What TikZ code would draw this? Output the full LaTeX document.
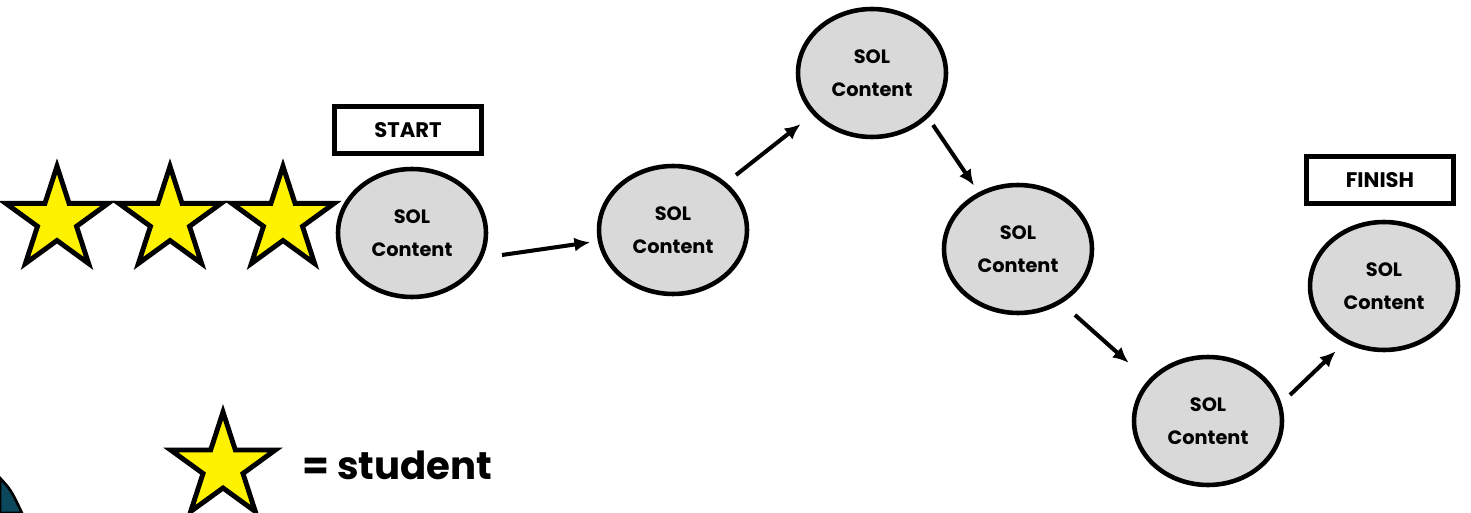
\documentclass[tikz,border=0pt]{standalone}
\usepackage{fontspec}
\setmainfont{Poppins}
\usetikzlibrary{shapes.geometric,arrows.meta}
\definecolor{solgray}{RGB}{217,217,217}
\definecolor{slideteal}{RGB}{12,72,92}
\tikzset{
  sol/.style={ellipse, draw, line width=2.6pt, fill=solgray, minimum width=2.96cm, minimum height=2.56cm, inner sep=0pt, align=center, font=\fontsize{11}{19}\selectfont\bfseries},
  label box/.style={draw, line width=2.8pt, minimum width=2.95cm, minimum height=0.95cm, inner sep=0pt, font=\fontsize{12}{14}\selectfont\bfseries},
  student/.style={star, star points=5, star point ratio=2.618, draw, line width=2.8pt, fill=yellow, inner sep=0pt, minimum size=2.15cm},
  flow/.style={-{Latex[length=9pt,width=8pt]}, line width=2.3pt, shorten >=1pt}
}
\begin{document}
\begin{tikzpicture}[x=0.02cm, y=-0.02cm]
\useasboundingbox (0,0) rectangle (1471,513);
% slide corner
\filldraw[fill=slideteal, line width=1.5pt] (0,478) .. controls (11,490) .. (22,513) -- (0,513) -- cycle;
% path of content
\node[sol] (c1) at (412,233) {SOL\\Content};
\node[sol] (c2) at (673,230) {SOL\\Content};
\node[sol] (c3) at (872,73) {SOL\\Content};
\node[sol] (c4) at (1018,249) {SOL\\Content};
\node[sol] (c5) at (1208,421) {SOL\\Content};
\node[sol] (c6) at (1384,286) {SOL\\Content};
\node[label box] (start) at (408,130) {START};
\node[label box] (finish) at (1380,180) {FINISH};
% students
\node[student] (s1) at (57,220) {};
\node[student] (s2) at (170,220) {};
\node[student] (s3) at (283,220) {};
\node[student, minimum size=2.2cm] (key) at (223,467) {};
\node[anchor=west, font=\fontsize{22}{24}\selectfont\bfseries] (keytext) at (296,465) {= student};
% arrows
\coordinate (a1) at (502,255); \coordinate (b1) at (592,242);
\coordinate (a2) at (736,175); \coordinate (b2) at (802,123);
\coordinate (a3) at (933,125); \coordinate (b3) at (975,187);
\coordinate (a4) at (1075,315); \coordinate (b4) at (1130,364);
\coordinate (a5) at (1290,395); \coordinate (b5) at (1337,350);
\draw[flow] (a1) -- (b1);
\draw[flow] (a2) -- (b2);
\draw[flow] (a3) -- (b3);
\draw[flow] (a4) -- (b4);
\draw[flow] (a5) -- (b5);
\end{tikzpicture}
\end{document}
